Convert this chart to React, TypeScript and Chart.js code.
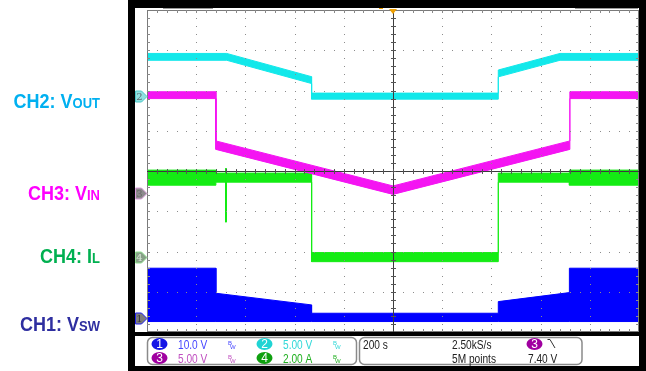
import React, { useEffect, useRef } from "react";
import { Chart, registerables } from "chart.js";

Chart.register(...registerables);

// ---------- time base: 200 s/div, 10 divisions ----------
const timeMin = -1000;
const timeMax = 1000;

// ---------- channel settings: units per division and ground offset (div above centre) ----------
const ch1PerDiv = 10;
const ch2PerDiv = 5;
const ch3PerDiv = 5;
const ch4PerDiv = 2;
const ch1Ground = -3.65;
const ch2Ground = 1.86;
const ch3Ground = -0.55;
const ch4Ground = -2.14;

// ---------- CH2: VOUT (V) ----------
const ch2Time = [-1000, -676, -331, -331, 428, 428, 679, 1000];
const ch2Volts = [4.88, 4.88, 1.99, 0.0, 0.0, 2.82, 4.88, 4.88];
const ch2Noise = [0.85, 0.85, 0.85, 0.75, 0.75, 0.85, 0.85, 0.85];

// ---------- CH3: VIN (V) ----------
const ch3Time = [-1000, -720, -720, 0, 719, 719, 1000];
const ch3Volts = [12.17, 12.17, 5.96, 0.37, 5.96, 12.17, 12.17];
const ch3Noise = [0.85, 0.85, 1.05, 1.05, 1.05, 0.85, 0.85];

// ---------- CH4: IL (A) ----------
const ch4Time = [-1000, -720, -720, -681, -679, -679, -677, -331, -331, 428, 428, 717, 717, 1000];
const ch4Amps = [3.95, 3.95, 3.95, 3.95, 4.42, 1.74, 3.95, 3.95, 0.0, 0.0, 3.95, 3.95, 3.95, 3.95];
const ch4Noise = [0.75, 0.75, 0.45, 0.45, 0, 0, 0.45, 0.45, 0.45, 0.45, 0.45, 0.45, 0.75, 0.75];

// ---------- CH1: VSW (V) switching envelope ----------
const ch1Time = [-1000, -720, -720, -331, -331, 428, 428, 717, 717, 1000];
const ch1Peak = [12.35, 12.35, 6.13, 3.23, 1.16, 1.16, 4.05, 6.29, 12.35, 12.35];
const ch1Floor = [-0.9, -0.9, -0.9, -0.9, -0.9, -0.9, -0.9, -0.9, -0.9, -0.9];

// ---------- text ----------
const channelNames = ["CH2: V", "CH3: V", "CH4: I", "CH1: V"];
const channelSubs = ["OUT", "IN", "L", "SW"];
const scaleLabels = ["10.0 V", "5.00 V", "5.00 V", "2.00 A"];
const timebaseLabel = "200 s";
const sampleRateLabel = "2.50kS/s";
const recordLabel = "5M points";
const triggerLevelLabel = "7.40 V";

const CYAN = "#12e8ea";
const MAGENTA = "#f414f2";
const GREEN = "#14ec14";
const BLUE = "#0000ff";

const envelope = (t: number[], v: number[], n: number[], sign: number) =>
  t.map((x, i) => ({ x, y: v[i] + (sign * n[i]) / 2 }));
const pts = (t: number[], v: number[]) => t.map((x, i) => ({ x, y: v[i] }));

const axisFor = (perDiv: number, ground: number) => ({
  type: "linear" as const,
  display: false,
  min: (-4 - ground) * perDiv,
  max: (4 - ground) * perDiv,
});

function drawText(
  ctx: CanvasRenderingContext2D,
  s: string,
  x: number,
  y: number,
  size: number,
  color: string,
  sx = 0.78,
  weight = "",
  align: CanvasTextAlign = "left"
) {
  ctx.save();
  ctx.translate(x, y);
  ctx.scale(sx, 1);
  ctx.font = `${weight} ${size}px "Liberation Sans", Arial, sans-serif`;
  ctx.fillStyle = color;
  ctx.textAlign = align;
  ctx.textBaseline = "alphabetic";
  ctx.fillText(s, 0, 0);
  ctx.restore();
}

function pill(ctx: CanvasRenderingContext2D, cx: number, cy: number, color: string, n: string) {
  ctx.save();
  ctx.beginPath();
  ctx.ellipse(cx, cy, 8, 6, 0, 0, Math.PI * 2);
  ctx.fillStyle = color;
  ctx.fill();
  ctx.font = `12px "Liberation Sans", Arial, sans-serif`;
  ctx.fillStyle = "#fff";
  ctx.textAlign = "center";
  ctx.textBaseline = "middle";
  ctx.fillText(n, cx, cy + 0.5);
  ctx.restore();
}

function bw(ctx: CanvasRenderingContext2D, x: number, base: number, color: string) {
  drawText(ctx, "B", x, base - 4, 6, color, 1);
  drawText(ctx, "W", x + 2, base, 6, color, 1);
}

const scopePlugin = {
  id: "scopeScreen",
  beforeDraw(chart: any) {
    const ctx: CanvasRenderingContext2D = chart.ctx;
    ctx.save();
    ctx.fillStyle = "#fff";
    ctx.fillRect(0, 0, 646, 371);
    ctx.fillStyle = "#000";
    ctx.fillRect(128, 0, 518, 8);
    ctx.fillRect(128, 0, 7, 366);
    ctx.fillRect(639, 0, 7, 366);
    ctx.fillRect(128, 366, 518, 5);
    ctx.fillRect(135, 332, 504, 4);
    ctx.restore();
  },
  afterDatasetsDraw(chart: any) {
    const ctx: CanvasRenderingContext2D = chart.ctx;
    const { left, right, top, bottom } = chart.chartArea;
    const dx = (right - left) / 10;
    const dy = (bottom - top) / 8;
    ctx.save();
    // dotted graticule
    ctx.fillStyle = "#8c8c8c";
    for (let i = 1; i < 10; i++) {
      if (i === 5) continue;
      const x = Math.round(left + i * dx);
      for (let j = 1; j < 40; j++) ctx.fillRect(x, Math.round(top + (j * dy) / 5), 1, 1);
    }
    for (let j = 1; j < 8; j++) {
      if (j === 4) continue;
      const y = Math.round(top + j * dy);
      for (let i = 1; i < 50; i++) ctx.fillRect(Math.round(left + (i * dx) / 5), y, 1, 1);
    }
    // border
    ctx.strokeStyle = "#7a7a7a";
    ctx.lineWidth = 1;
    ctx.strokeRect(left + 0.5, top + 0.5, right - left - 1, bottom - top - 1);
    ctx.fillStyle = "#8a8a8a";
    for (let i = 1; i < 50; i++) {
      const x = Math.round(left + (i * dx) / 5);
      ctx.fillRect(x, top, 1, 3);
      ctx.fillRect(x, bottom - 3, 1, 3);
    }
    for (let j = 1; j < 40; j++) {
      const y = Math.round(top + (j * dy) / 5);
      ctx.fillRect(left, y, 3, 1);
      ctx.fillRect(right - 3, y, 3, 1);
    }
    // centre cross
    const cx = Math.round(left + 5 * dx);
    const cy = Math.round(top + 4 * dy);
    ctx.fillStyle = "#3c3c3c";
    ctx.fillRect(left, cy, right - left, 1);
    ctx.fillRect(cx, top, 1, bottom - top);
    ctx.fillStyle = "#555";
    for (let i = 1; i < 50; i++) ctx.fillRect(Math.round(left + (i * dx) / 5), cy - 2, 1, 5);
    for (let j = 1; j < 40; j++) ctx.fillRect(cx - 2, Math.round(top + (j * dy) / 5), 5, 1);
    ctx.restore();
  },
  afterDraw(chart: any) {
    const ctx: CanvasRenderingContext2D = chart.ctx;
    const { left } = chart.chartArea;
    ctx.save();
    // top indicators
    ctx.fillStyle = "#9a9a9a";
    ctx.fillRect(163, 8, 50, 1);
    ctx.fillRect(575, 8, 63, 1);
    ctx.fillStyle = "#f0a000";
    ctx.fillRect(379, 8, 4, 1);
    const tx = chart.scales.x.getPixelForValue(0);
    ctx.beginPath();
    ctx.moveTo(tx - 4, 9);
    ctx.lineTo(tx + 4, 9);
    ctx.lineTo(tx, 14);
    ctx.closePath();
    ctx.fill();

    // channel ground markers
    const markers = [
      { axis: "y2", n: "2", fill: "#8fe0e0", stroke: "#4cc8c8", text: "#5a6a70" },
      { axis: "y3", n: "3", fill: "#8e8a8e", stroke: "#e0a0e0", text: "#6a6a6a" },
      { axis: "y4", n: "4", fill: "#88a088", stroke: "#90e090", text: "#d8e8d8" },
      { axis: "y1", n: "1", fill: "#7c7c7c", stroke: "#2020f0", text: "#3a3a3a" },
    ];
    for (const m of markers) {
      const y = Math.round(chart.scales[m.axis].getPixelForValue(0)) + 0.5;
      ctx.beginPath();
      ctx.moveTo(135.5, y - 5.5);
      ctx.lineTo(141.5, y - 5.5);
      ctx.lineTo(left, y);
      ctx.lineTo(141.5, y + 5.5);
      ctx.lineTo(135.5, y + 5.5);
      ctx.closePath();
      ctx.fillStyle = m.fill;
      ctx.fill();
      ctx.strokeStyle = m.stroke;
      ctx.lineWidth = 1;
      ctx.stroke();
      ctx.font = `10px "DejaVu Serif", serif`;
      ctx.fillStyle = m.text;
      ctx.textAlign = "center";
      ctx.textBaseline = "middle";
      ctx.fillText(m.n, 139.5, y + 0.5);
    }

    // left channel labels
    const labelColors = ["#00b0f0", "#ff00ff", "#00b050", "#2e2ea0"];
    const labelBase = [108, 200, 263, 331];
    for (let i = 0; i < 4; i++) {
      ctx.save();
      ctx.textAlign = "left";
      ctx.textBaseline = "alphabetic";
      ctx.font = `bold 13px "Liberation Sans", Arial, sans-serif`;
      const ws = ctx.measureText(channelSubs[i]).width;
      ctx.font = `bold 18px "Liberation Sans", Arial, sans-serif`;
      const wm = ctx.measureText(channelNames[i]).width;
      ctx.fillStyle = labelColors[i];
      ctx.translate(0, labelBase[i]);
      ctx.scale(1, 1.12);
      ctx.fillText(channelNames[i], 100 - ws - wm, 0);
      ctx.font = `bold 13px "Liberation Sans", Arial, sans-serif`;
      ctx.fillText(channelSubs[i], 100 - ws, 0);
      ctx.restore();
    }

    // status boxes
    ctx.strokeStyle = "#8a8a8a";
    ctx.lineWidth = 1.5;
    ctx.beginPath();
    ctx.roundRect(147.5, 337.5, 209, 27, 5);
    ctx.stroke();
    ctx.beginPath();
    ctx.roundRect(359.5, 337.5, 222.5, 27, 5);
    ctx.stroke();

    const r1 = 348.5;
    const r2 = 362.5;
    pill(ctx, 159.5, 344, "#1414e6", "1");
    drawText(ctx, scaleLabels[0], 178, r1, 13, "#4646ff");
    bw(ctx, 228, r1, "#4646ff");
    pill(ctx, 264.5, 344, "#20d4d4", "2");
    drawText(ctx, scaleLabels[1], 283, r1, 13, "#30d8d8");
    bw(ctx, 333, r1, "#30d8d8");
    pill(ctx, 159.5, 358, "#a000a0", "3");
    drawText(ctx, scaleLabels[2], 178, r2, 13, "#c050c0");
    bw(ctx, 228, r2, "#c050c0");
    pill(ctx, 264.5, 358, "#10a010", "4");
    drawText(ctx, scaleLabels[3], 283, r2, 13, "#20b020");
    bw(ctx, 333, r2, "#20b020");

    drawText(ctx, timebaseLabel, 363, r1, 13, "#222");
    drawText(ctx, sampleRateLabel, 452, r1, 13, "#222");
    drawText(ctx, recordLabel, 452, r2, 13, "#222");
    pill(ctx, 534.5, 344, "#a000a0", "3");
    ctx.strokeStyle = "#333";
    ctx.lineWidth = 1;
    ctx.beginPath();
    ctx.moveTo(547.5, 339.5);
    ctx.lineTo(550, 339.5);
    ctx.lineTo(555, 348);
    ctx.stroke();
    drawText(ctx, triggerLevelLabel, 528, r2, 13, "#222");
    ctx.restore();
  },
};

const line = (data: any[], color: string, axis: string, fill: any) => ({
  data,
  yAxisID: axis,
  borderColor: color,
  backgroundColor: color,
  borderWidth: 1,
  pointRadius: 0,
  tension: 0,
  fill,
});

export default function App() {
  const ref = useRef<HTMLCanvasElement>(null);
  useEffect(() => {
    const canvas = ref.current!;
    const chart = new Chart(canvas, {
      type: "line",
      data: {
        datasets: [
          line(envelope(ch2Time, ch2Volts, ch2Noise, 1), CYAN, "y2", "+1"),
          line(envelope(ch2Time, ch2Volts, ch2Noise, -1), CYAN, "y2", false),
          line(envelope(ch3Time, ch3Volts, ch3Noise, 1), MAGENTA, "y3", "+1"),
          line(envelope(ch3Time, ch3Volts, ch3Noise, -1), MAGENTA, "y3", false),
          line(envelope(ch4Time, ch4Amps, ch4Noise, 1), GREEN, "y4", "+1"),
          line(envelope(ch4Time, ch4Amps, ch4Noise, -1), GREEN, "y4", false),
          line(pts(ch1Time, ch1Peak), BLUE, "y1", "+1"),
          line(pts(ch1Time, ch1Floor), BLUE, "y1", false),
        ],
      },
      options: {
        responsive: false,
        maintainAspectRatio: false,
        animation: false,
        events: [],
        layout: { padding: { left: 147, right: 7, top: 10, bottom: 39 } },
        plugins: { legend: { display: false }, tooltip: { enabled: false } },
        scales: {
          x: { type: "linear", display: false, min: timeMin, max: timeMax },
          y1: axisFor(ch1PerDiv, ch1Ground),
          y2: axisFor(ch2PerDiv, ch2Ground),
          y3: axisFor(ch3PerDiv, ch3Ground),
          y4: axisFor(ch4PerDiv, ch4Ground),
        },
      },
      plugins: [scopePlugin],
    } as any);
    return () => chart.destroy();
  }, []);
  return (
    <div style={{ position: "absolute", left: 0, top: 0, width: 646, height: 371, background: "#fff" }}>
      <canvas ref={ref} width={646} height={371} style={{ display: "block", width: 646, height: 371 }} />
    </div>
  );
}
